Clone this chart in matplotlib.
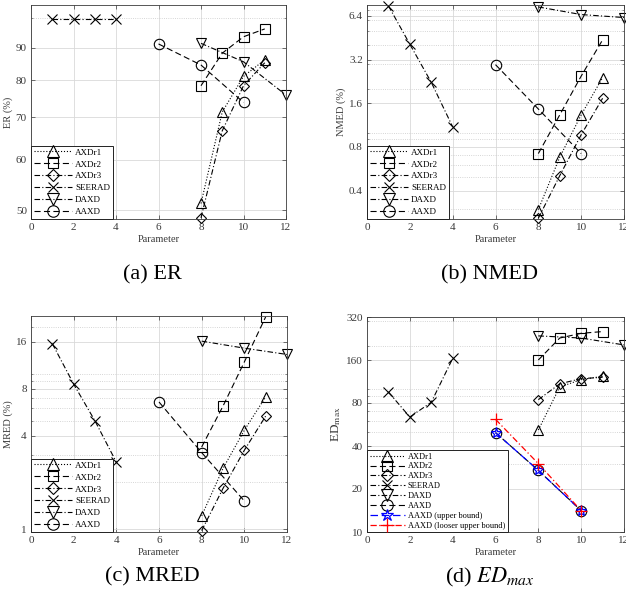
import numpy as np
import matplotlib
matplotlib.use("Agg")
import matplotlib.pyplot as plt
from matplotlib.ticker import LogLocator, NullFormatter, FixedLocator, FixedFormatter

plt.rcParams['font.family'] = ['Liberation Serif', 'DejaVu Serif']
plt.rcParams['mathtext.fontset'] = 'stix'

# ---------------- data ----------------
x_r = [8, 9, 10, 11]
x_seerad = [1, 2, 3, 4]
x_daxd = [8, 10, 12]
x_aaxd = [6, 8, 10]

er_axdr1 = [51.2, 71.3, 81.1, 86.1]
er_axdr2 = [78.4, 88.2, 93.6, 96.3]
er_axdr3 = [48.6, 66.6, 78.4, 85.2]
er_seerad = [99.8, 99.8, 99.8, 99.8]
er_daxd = [91.4, 85.5, 75.8]
er_aaxd = [91.2, 84.5, 73.8]

nmed_axdr1 = [0.296, 0.68, 1.33, 2.40]
nmed_axdr2 = [0.72, 1.33, 2.46, 4.37]
nmed_axdr3 = [0.258, 0.507, 0.97, 1.73]
nmed_seerad = [7.5, 4.08, 2.23, 1.10]
nmed_daxd = [7.37, 6.53, 6.23]
nmed_aaxd = [2.95, 1.46, 0.72]

mred_axdr1 = [1.22, 2.46, 4.33, 7.1]
mred_axdr2 = [3.38, 6.19, 11.9, 23.2]
mred_axdr3 = [0.98, 1.83, 3.22, 5.34]
mred_seerad = [15.6, 8.57, 4.97, 2.70]
mred_daxd = [16.2, 14.6, 13.3]
mred_aaxd = [6.58, 3.11, 1.52]

ed_axdr1 = [51.8, 103.6, 116.6, 123]
ed_axdr2 = [160, 228, 246, 253]
ed_axdr3 = [84.4, 109, 118.5, 121]
ed_seerad = [95.5, 63.8, 80.9, 164]
ed_daxd = [236, 228, 204]
ed_aaxd = [49.6, 27.0, 14.1]
ed_aaxd_ub = [49.6, 27.0, 14.1]
ed_aaxd_lub = [61.5, 30.1, 14.1]

labels = ['AXDr1', 'AXDr2', 'AXDr3', 'SEERAD', 'DAXD', 'AAXD']
xticks = [0, 2, 4, 6, 8, 10, 12]

er_ticks = [50, 60, 70, 80, 90]
nmed_ticks = [0.4, 0.8, 1.6, 3.2, 6.4]
mred_ticks = [1, 4, 8, 16]
ed_ticks = [10, 20, 40, 80, 160, 320]

captions = ['(a) ER', '(b) NMED', '(c) MRED', '(d) $ED_{max}$']

# ---------------- styles ----------------
DOT = ':'
DASH = (0, (5.5, 3))
DASHDOT = (0, (5, 2, 1, 2))
styles = [
    dict(ls=DOT, marker='^', ms=7.5),
    dict(ls=DASH, marker='s', ms=6.5),
    dict(ls=DASHDOT, marker='D', ms=5.5),
    dict(ls=DASHDOT, marker='x', ms=6.5),
    dict(ls=DASHDOT, marker='v', ms=7.5),
    dict(ls=DASH, marker='o', ms=7.5),
]

W, H = 626, 601
fig = plt.figure(figsize=(W / 100, H / 100), dpi=100)

def make_ax(l, r, t, b):
    return fig.add_axes([l / W, 1 - b / H, (r - l) / W, (b - t) / H])

axes = [make_ax(31, 286, 5, 219), make_ax(367, 624, 5, 219),
        make_ax(31, 287, 316, 532), make_ax(367, 624, 317, 532)]

GRAY = '#3a3a3a'

def setup(ax, ticks, ylim, ylabel):
    ax.set_yscale('log')
    ax.set_xlim(0, 12)
    ax.set_ylim(*ylim)
    ax.yaxis.set_major_locator(FixedLocator(ticks))
    ax.yaxis.set_major_formatter(FixedFormatter([('%g' % t) for t in ticks]))
    ax.yaxis.set_minor_locator(LogLocator(base=10, subs=np.arange(1, 10), numticks=50))
    ax.yaxis.set_minor_formatter(NullFormatter())
    ax.set_xticks(xticks)
    ax.grid(True, which='major', color='#d9d9d9', lw=0.6, ls='-')
    ax.grid(True, which='minor', axis='y', color='#c8c8c8', lw=0.6, ls=':')
    ax.set_axisbelow(True)
    ax.tick_params(which='both', direction='in', top=True, right=True,
                   colors=GRAY, labelsize=8, pad=3)
    ax.tick_params(which='major', length=3, width=0.5)
    ax.tick_params(which='minor', length=1.5, width=0.4)
    for s in ax.spines.values():
        s.set_color(GRAY)
        s.set_linewidth(0.6)
    ax.set_xlabel('Parameter', fontsize=7.5, color=GRAY, labelpad=2)
    ax.set_ylabel(ylabel, fontsize=7.5, color=GRAY, labelpad=2)

def plot_set(ax, series):
    xs = [x_r, x_r, x_r, x_seerad, x_daxd, x_aaxd]
    hs = []
    for x, y, st, lab in zip(xs, series, styles, labels):
        h, = ax.plot(x, y, color='black', lw=0.8, mfc='none', mec='black',
                     mew=0.8, label=lab, clip_on=False, **st)
        hs.append(h)
    return hs

def legend(ax, fs=6.5, spacing=0.4):
    leg = ax.legend(loc='lower left', borderaxespad=0, fontsize=fs,
                    handlelength=4.2, handletextpad=0.4, labelspacing=spacing,
                    borderpad=0.3, numpoints=1, fancybox=False, framealpha=1,
                    edgecolor='#222222', markerscale=1.1)
    leg.get_frame().set_linewidth(0.7)
    return leg

ax = axes[0]
setup(ax, er_ticks, (48.4, 105), 'ER (%)')
plot_set(ax, [er_axdr1, er_axdr2, er_axdr3, er_seerad, er_daxd, er_aaxd])
legend(ax)

ax = axes[1]
setup(ax, nmed_ticks, (0.255, 7.6), 'NMED (%)')
plot_set(ax, [nmed_axdr1, nmed_axdr2, nmed_axdr3, nmed_seerad, nmed_daxd, nmed_aaxd])
legend(ax)

ax = axes[2]
setup(ax, mred_ticks, (0.96, 23.5), 'MRED (%)')
plot_set(ax, [mred_axdr1, mred_axdr2, mred_axdr3, mred_seerad, mred_daxd, mred_aaxd])
legend(ax)

ax = axes[3]
setup(ax, ed_ticks, (10, 320), 'ED$_{\\mathrm{max}}$')
ax.yaxis.label.set_fontsize(9.5)
plot_set(ax, [ed_axdr1, ed_axdr2, ed_axdr3, ed_seerad, ed_daxd, ed_aaxd])
ax.plot(x_aaxd, ed_aaxd_ub, color='blue', lw=0.9, ls=(0, (6, 3)), marker='*',
        ms=8, mfc='none', mec='blue', mew=0.9, label='AAXD (upper bound)')
ax.plot(x_aaxd, ed_aaxd_lub, color='red', lw=0.9, ls=(0, (5, 2, 1, 2)), marker='+',
        ms=9, mec='red', mew=0.9, label='AAXD (looser upper bound)')
legend(ax, fs=6.0, spacing=0.22)

cap_pos = [(152, 275), (490, 275), (152, 577), (490, 577)]
for (cx, cy), txt in zip(cap_pos, captions):
    fig.text(cx / W, 1 - cy / H, txt, ha='center', va='center', fontsize=16,
             color='black')

fig.savefig('out.png', dpi=100)
